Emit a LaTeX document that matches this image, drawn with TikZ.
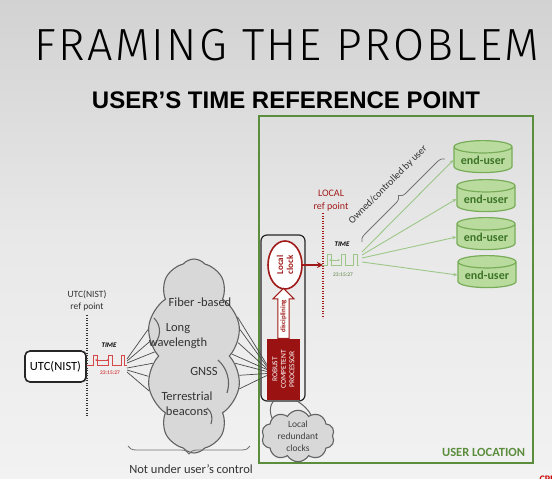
\documentclass[tikz,border=0pt]{standalone}
\usepackage{fontspec}
\setmainfont{Carlito}
\newfontfamily\headfont{Liberation Sans}
\IfFontExistsTF{Fira Sans Light}{\newfontfamily\titlefont[LetterSpace=5]{Fira Sans Light}}{\newfontfamily\titlefont[LetterSpace=5]{Lato}}
\usepackage{xcolor}
\usepackage{tikz}
\usetikzlibrary{positioning,arrows.meta,shapes.geometric,shapes.symbols,shapes.arrows,decorations.pathreplacing}
\definecolor{bgtop}{HTML}{D2D2D2}
\definecolor{bgbot}{HTML}{F2F2F2}
\definecolor{boxgreen}{HTML}{5A8D3C}
\definecolor{userfill}{HTML}{B9DC9E}
\definecolor{userline}{HTML}{78AC58}
\definecolor{usertext}{HTML}{3D7428}
\definecolor{gsig}{HTML}{9CC788}
\definecolor{clockred}{HTML}{A01A1A}
\definecolor{procred}{HTML}{9A1212}
\definecolor{sigred}{HTML}{D44848}
\definecolor{cloudfill}{HTML}{D8D8D8}
\definecolor{cloudline}{HTML}{626262}
\definecolor{fangray}{HTML}{4A4A4A}

\begin{document}
\begin{tikzpicture}[x=1pt, y=-1pt, font=\fontsize{12.5}{15}\selectfont,
  txt/.style={text=black!80, inner sep=0pt},
  small/.style={font=\fontsize{9.5}{11.5}\selectfont, align=center, inner sep=0pt},
  bigcloud/.style={cloud, cloud puffs=10, cloud puff arc=100, cloud ignores aspect, draw=cloudline, fill=cloudfill, line width=1.1pt, minimum width=95pt, minimum height=194pt},
  smallcloud/.style={cloud, cloud puffs=10, cloud puff arc=120, cloud ignores aspect, draw=cloudline, fill=cloudfill, line width=1.1pt, minimum width=73pt, minimum height=45pt, inner sep=0pt, align=center, font=\fontsize{9.5}{12}\selectfont, text=black!75},
  fan/.style={draw=fangray, line width=0.7pt},
  gline/.style={draw=gsig, line width=0.9pt, -{Stealth[length=4pt, width=3.5pt]}},
  enduser/.style={cylinder, shape border rotate=90, aspect=0.28, draw=userline, fill=userfill, line width=1.2pt, minimum width=58pt, minimum height=32pt, inner sep=0pt, text=usertext, font=\bfseries\fontsize{12}{12}\selectfont},
  refdots/.style={line width=1.8pt, dash pattern=on 1.2pt off 1.3pt},
  pulse/.style={line width=0.8pt, line join=miter},
  brace/.style={decorate, draw=black!55, line width=0.8pt}]

\useasboundingbox (0,0) rectangle (552,479);
\fill[top color=bgtop, bottom color=bgbot, middle color=bgbot!70!bgtop] (0,0) rectangle (552,479);

\node[font=\titlefont\fontsize{45}{45}\selectfont] (title) at (287,45) {FRAMING THE PROBLEM};
\node[font=\headfont\bfseries\fontsize{24}{24}\selectfont] (subtitle) at (286,100) {USER’S TIME REFERENCE POINT};

\node[draw=boxgreen, line width=1.6pt, minimum width=274pt, minimum height=347pt, anchor=north west] (userloc) at (258,115) {};
\node[anchor=south east, text=boxgreen, font=\bfseries\fontsize{12.5}{12.5}\selectfont] (userlbl) at ([xshift=-5pt, yshift=3pt]userloc.south east) {USER LOCATION};

% left side: UTC source
\node[draw=black!85, fill=white, line width=1.6pt, rounded corners=5pt, minimum width=61pt, minimum height=31pt, inner sep=0pt] (utc) at (55.5,366.5) {UTC(NIST)};
\coordinate (utcrefT) at (87,315);
\coordinate (utcrefB) at (87,417);
\draw[refdots, black!80] (utcrefT) -- (utcrefB);
\node[small, above=4pt of utcrefT, text=black!80] (utcref) {UTC(NIST)\\ref point};

\draw[pulse, sigred] (utc.east |- 0,365) -- (93,365) -- ++(0,-10) -- ++(4,0) -- ++(0,10) -- ++(11,0) -- ++(0,-10) -- ++(4,0) -- ++(0,10) -- ++(9,0) -- ++(0,-10) -- ++(3,0) -- ++(0,10) -- ++(3,0) coordinate (utcout);
\draw[sigred, line width=0.5pt, {Stealth[length=2pt]}-{Stealth[length=2pt]}] (95,360) -- (109,360);
\node[font=\bfseries\itshape\fontsize{7}{7}\selectfont, inner sep=0pt] (utctime) at (109,345) {TIME};
\node[font=\bfseries\fontsize{5.5}{5.5}\selectfont, text=sigred, inner sep=0pt] (utcstamp) at (110,373) {23:15:27};

% time sources
\node[bigcloud] (gnss) at (194,356) {};
\draw[cloudline, line width=1.1pt] (154,318) .. controls (162,326) and (161,338) .. (153,346);
\draw[cloudline, line width=1.1pt] (218,360) .. controls (227,368) and (231,381) .. (227,393);
\draw[cloudline, line width=1.1pt] (207,408) .. controls (212,412) and (213,418) .. (211,424);
\node[txt] (fiber) at (200,302) {Fiber -based};
\node[txt, align=center] (longwave) at (178,336) {Long\\wavelength};
\node[txt] (gnsstxt) at (204,371) {GNSS};
\node[txt, align=center] (beacons) at (187,404) {Terrestrial\\beacons};

\foreach \a/\dy in {150/6, 162/4, 174/2, 190/-3, 204/-5, 218/-7}
  \draw[fan] ([yshift=\dy pt]utcout) -- (gnss.\a);

\draw[brace, decoration={brace, amplitude=8pt}] (250,446) -- (128,446);
\node[txt] (notctrl) at (191,469) {Not under user’s control};

% user location
\node[draw=black!85, line width=1.2pt, rounded corners=6pt, minimum width=44pt, minimum height=166pt] (clockbox) at (283,318) {};
\node[fill=procred, rotate=90, minimum width=61pt, minimum height=33pt, inner sep=0pt, align=center, text=white, font=\fontsize{7.5}{8.5}\selectfont] (proc) at (283.5,369.5) {ROBUST\\COMPETENT\\PROCESSOR};
\node[ellipse, draw=clockred, fill=white, line width=1.6pt, rotate=90, minimum width=48pt, minimum height=34pt, inner sep=0pt, align=center, text=clockred, font=\bfseries\fontsize{9}{10}\selectfont] (clock) at (285,265) {Local\\clock};
\node[single arrow, draw=clockred, fill=white, line width=1pt, rotate=90, minimum height=50pt, minimum width=21pt, single arrow head extend=4pt, inner sep=1.2pt, anchor=tail, text=clockred, font=\bfseries\fontsize{7}{7}\selectfont] (disc) at (proc.east) {disciplining};

\foreach \a/\dy in {42/5, 30/3, 17/1, 3/0, -10/-2, -23/-4, -36/-6}
  \draw[fan] (gnss.\a) -- ([yshift=\dy pt]proc.north);

\draw[cloudline, line width=1pt] ([xshift=-9pt]proc.west) .. controls +(-6,5) and +(-3,-5) .. (273,420);
\draw[cloudline, line width=1pt] ([xshift=12pt]proc.west) .. controls +(8,4) and +(1,-6) .. (312,420);
\node[smallcloud] (lrc) at (298,436) {Local\\redundant\\clocks};

\coordinate (lrefT) at (323,213);
\coordinate (lrefB) at (323,318);
\draw[refdots, clockred] (lrefT) -- (lrefB);
\node[small, above=2pt of lrefT, xshift=8pt, text=clockred, font=\fontsize{10}{12.5}\selectfont] (lref) {LOCAL\\ref point};
\draw[clockred, line width=1.6pt, -{Stealth[length=6pt, width=6pt]}] (clock.south) -- (clock.south -| lrefT) coordinate (lhit);

\draw[pulse, gsig] (lhit) -- ++(4,0) -- ++(0,-11) -- ++(4,0) -- ++(0,11) -- ++(10,0) -- ++(0,-11) -- ++(4,0) -- ++(0,11) -- ++(8,0) -- ++(0,-11) -- ++(4,0) -- ++(0,11) -- ++(2,0);
\coordinate (gout) at (362,258);
\draw[gsig, line width=0.5pt, {Stealth[length=2pt]}-{Stealth[length=2pt]}] (329,260) -- (340,260);
\node[font=\bfseries\itshape\fontsize{7}{7}\selectfont, inner sep=0pt] (loctime) at (342,244) {TIME};
\node[font=\bfseries\fontsize{5.5}{5.5}\selectfont, text=gsig!80!black, inner sep=0pt] (locstamp) at (343,275) {23:15:27};

\node[enduser] (eu1) at (483,160) {end-user};
\node[enduser] (eu2) at (486,199) {end-user};
\node[enduser] (eu3) at (486,237) {end-user};
\node[enduser] (eu4) at (487,275) {end-user};
\foreach \u/\dy in {eu1/6, eu2/3, eu3/0, eu4/-4}
  \draw[gline] ([yshift=\dy pt]gout) -- (\u.180);

\draw[brace, decoration={brace, amplitude=7pt}] (362,242) -- (445,159);
\node[rotate=45, txt, font=\fontsize{10}{10}\selectfont] (owned) at (388,185) {Owned/controlled by user};

\node[anchor=north west, text=red!80!black, font=\bfseries\fontsize{10}{10}\selectfont] (cpi) at (536,472) {CPI};
\end{tikzpicture}
\end{document}
